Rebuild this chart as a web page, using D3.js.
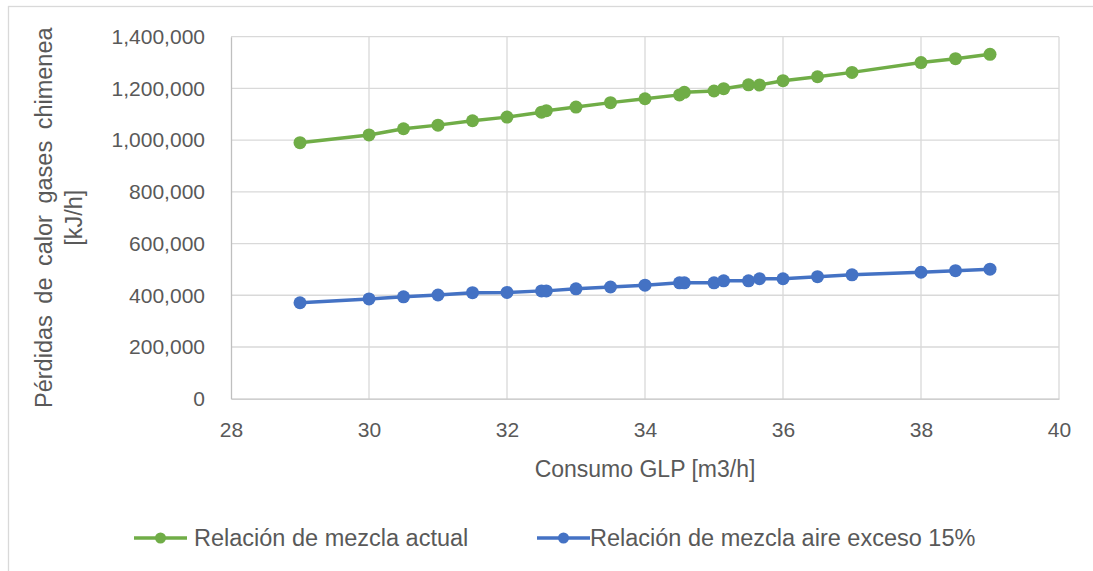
<!DOCTYPE html>
<html>
<head>
<meta charset="utf-8">
<script src="https://cdn.jsdelivr.net/npm/d3@7"></script>
<style>
  html, body { margin: 0; padding: 0; background: #fff; }
  svg { display: block; }
</style>
</head>
<body>
<svg id="chart" width="1093" height="571"></svg>
<script>
// ---- data ----
const consumo = [29, 30, 30.5, 31, 31.5, 32, 32.5, 32.57, 33, 33.5, 34, 34.5, 34.57, 35, 35.14, 35.5, 35.66, 36, 36.5, 37, 38, 38.5, 39];
const actual = [990000, 1020000, 1044000, 1058000, 1075000, 1089000, 1108000, 1114000, 1128000, 1145000, 1160000, 1175000, 1185000, 1190000, 1199000, 1214000, 1213000, 1230000, 1245000, 1262000, 1300000, 1315000, 1332000];
const exceso15 = [371000, 386000, 394000, 401000, 410000, 411000, 417000, 417000, 425000, 432000, 439000, 448000, 448000, 448000, 456000, 456000, 464000, 464000, 472000, 479000, 489000, 495000, 501000];
const xTicks = [28, 30, 32, 34, 36, 38, 40];
const yTicks = [0, 200000, 400000, 600000, 800000, 1000000, 1200000, 1400000];
const seriesNames = ["Relación de mezcla actual", "Relación de mezcla aire exceso 15%"];
const seriesColors = ["#70ad47", "#4472c4"];
const xTitle = "Consumo GLP [m3/h]";
const yTitleLines = ["Pérdidas de calor gases chimenea", "[kJ/h]"];

// ---- layout ----
const svg = d3.select("#chart");
const plot = { left: 231, right: 1059, top: 36.7, bottom: 398.7 };
const textColor = "#595959";
const sans = "'Liberation Sans', Arial, sans-serif";

// outer chart border
svg.append("rect")
  .attr("x", 8.5).attr("y", 6.5)
  .attr("width", 1100).attr("height", 600)
  .attr("fill", "none").attr("stroke", "#d9d9d9").attr("stroke-width", 1.3);

const x = d3.scaleLinear().domain([28, 40]).range([plot.left, plot.right]);
const y = d3.scaleLinear().domain([0, 1400000]).range([plot.bottom, plot.top]);

// gridlines
const grid = svg.append("g");
grid.selectAll("line.h").data(yTicks.filter(d => d > 0)).enter().append("line")
  .attr("x1", plot.left).attr("x2", plot.right)
  .attr("y1", d => y(d)).attr("y2", d => y(d))
  .attr("stroke", "#d9d9d9").attr("stroke-width", 1.3);
grid.selectAll("line.v").data(xTicks.filter(d => d > 28)).enter().append("line")
  .attr("y1", plot.top).attr("y2", plot.bottom)
  .attr("x1", d => x(d)).attr("x2", d => x(d))
  .attr("stroke", "#d9d9d9").attr("stroke-width", 1.3);

// axes
const xAxis = d3.axisBottom(x).tickValues(xTicks).tickSize(0).tickPadding(23).tickFormat(d3.format("d"));
const gx = svg.append("g").attr("transform", `translate(0,${plot.bottom})`).call(xAxis);
gx.select(".domain").attr("stroke", "#bfbfbf").attr("stroke-width", 1.3);
gx.selectAll("text").attr("fill", textColor).style("font-family", sans).style("font-size", "21px").attr("dy", "0.71em");

const yAxis = d3.axisLeft(y).tickValues(yTicks).tickSize(0).tickPadding(26).tickFormat(d3.format(",d"));
const gy = svg.append("g").attr("transform", `translate(${plot.left},0)`).call(yAxis);
gy.select(".domain").attr("stroke", "#bfbfbf").attr("stroke-width", 1.3);
gy.selectAll("text").attr("fill", textColor).style("font-family", sans).style("font-size", "21px");

// axis titles
svg.append("text")
  .attr("x", (plot.left + plot.right) / 2).attr("y", 477)
  .attr("text-anchor", "middle").attr("fill", textColor)
  .style("font-family", sans).style("font-size", "23px")
  .text(xTitle);

const yt = svg.append("g").attr("transform", `translate(0,${(plot.top + plot.bottom) / 2}) rotate(-90)`);
yTitleLines.forEach((t, i) => {
  yt.append("text")
    .attr("x", 0).attr("y", 52 + i * 30)
    .attr("text-anchor", "middle").attr("fill", textColor)
    .style("font-family", sans).style("font-size", "23.5px")
    .style("word-spacing", i === 0 ? "5px" : "0px")
    .text(t);
});

// series
const seriesData = [actual, exceso15];
const line = d3.line().x(d => x(d[0])).y(d => y(d[1]));
seriesData.forEach((vals, si) => {
  const pts = consumo.map((c, i) => [c, vals[i]]);
  const g = svg.append("g");
  g.append("path").datum(pts)
    .attr("d", line).attr("fill", "none")
    .attr("stroke", seriesColors[si]).attr("stroke-width", 3.5)
    .attr("stroke-linejoin", "round");
  g.selectAll("circle").data(pts).enter().append("circle")
    .attr("cx", d => x(d[0])).attr("cy", d => y(d[1])).attr("r", 6.5)
    .attr("fill", seriesColors[si]);
});

// legend
const legendItems = [{ x0: 134, tx: 194 }, { x0: 537, tx: 590 }];
const lg = svg.append("g");
seriesNames.forEach((name, i) => {
  const it = legendItems[i];
  const cy = 538;
  lg.append("line").attr("x1", it.x0).attr("x2", it.x0 + 53)
    .attr("y1", cy).attr("y2", cy)
    .attr("stroke", seriesColors[i]).attr("stroke-width", 3.5);
  lg.append("circle").attr("cx", it.x0 + 26.5).attr("cy", cy).attr("r", 5.5).attr("fill", seriesColors[i]);
  lg.append("text").attr("x", it.tx).attr("y", cy).attr("dy", "0.35em")
    .attr("fill", textColor).style("font-family", sans).style("font-size", "23.5px")
    .text(name);
});
</script>
</body>
</html>
